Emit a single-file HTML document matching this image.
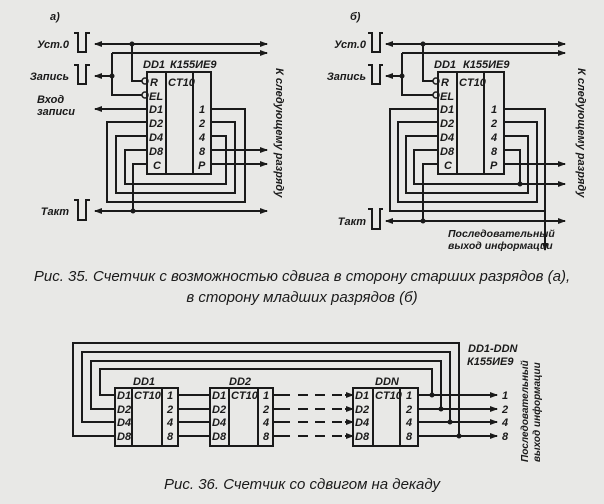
<!DOCTYPE html>
<html><head><meta charset="utf-8"><style>
html,body{margin:0;padding:0;background:#e8e8e6;}
svg{display:block;}
text{font-family:"Liberation Sans","DejaVu Sans",sans-serif;font-style:italic;font-weight:bold;fill:#1a1a1a;}
.l{stroke:#1a1a1a;stroke-width:2;fill:none;}
.t{font-size:11px;}
.c{font-size:15px;font-weight:normal;}
</style></head><body>
<svg width="604" height="504" viewBox="0 0 604 504" xmlns="http://www.w3.org/2000/svg">
<defs>
<marker id="a" markerWidth="8" markerHeight="6" refX="7" refY="3" orient="auto" markerUnits="userSpaceOnUse"><path d="M0,0 L8,3 L0,6z" fill="#1a1a1a"/></marker>
</defs>

<!-- ===== Fig a ===== -->
<text x="50" y="20" class="t">а)</text>
<text x="69" y="48" class="t" text-anchor="end">Уст.0</text>
<path class="l" d="M74,33 L78,33 L78,52 L86,52 L86,33 L90,33"/>
<text x="69" y="80" class="t" text-anchor="end">Запись</text>
<path class="l" d="M74,65 L78,65 L78,84 L86,84 L86,65 L90,65"/>
<text x="37" y="103" class="t">Вход</text>
<text x="37" y="115" class="t">записи</text>
<text x="69" y="215" class="t" text-anchor="end">Такт</text>
<path class="l" d="M74,200 L78,200 L78,220 L86,220 L86,200 L90,200"/>

<path class="l" d="M132,44 L95,44" marker-end="url(#a)"/>
<path class="l" d="M132,44 L267,44" marker-end="url(#a)"/>
<path class="l" d="M112,53 L267,53" marker-end="url(#a)"/>
<path class="l" d="M132,44 L132,81 L143,81"/>
<path class="l" d="M112,53 L112,95 L143,95"/>
<path class="l" d="M112,76 L95,76" marker-end="url(#a)"/>
<path class="l" d="M147,109 L95,109" marker-end="url(#a)"/>
<circle cx="132" cy="44" r="2.5" fill="#1a1a1a"/>
<circle cx="112" cy="76" r="2.5" fill="#1a1a1a"/>
<circle cx="145" cy="81" r="3" fill="#e8e8e6" stroke="#1a1a1a" stroke-width="1.5"/>
<circle cx="145" cy="95" r="3" fill="#e8e8e6" stroke="#1a1a1a" stroke-width="1.5"/>
<rect class="l" x="147" y="72" width="64" height="102"/>
<path class="l" d="M166,72 L166,174 M193,72 L193,174"/>
<text x="143" y="68" class="t">DD1</text>
<text x="170" y="68" class="t">К155ИЕ9</text>
<text x="150" y="86" class="t">R</text><text x="168" y="86" class="t">CT10</text>
<text x="149" y="100" class="t">EL</text>
<text x="149" y="113" class="t">D1</text><text x="149" y="127" class="t">D2</text>
<text x="149" y="141" class="t">D4</text><text x="149" y="155" class="t">D8</text>
<text x="153" y="169" class="t">C</text>
<text x="199" y="113" class="t">1</text><text x="199" y="127" class="t">2</text>
<text x="199" y="141" class="t">4</text><text x="199" y="155" class="t">8</text>
<text x="198" y="169" class="t">P</text>
<path class="l" d="M211,109 L245,109 L245,202 L107,202 L107,122 L147,122"/>
<path class="l" d="M211,122 L235,122 L235,193 L116,193 L116,136 L147,136"/>
<path class="l" d="M211,136 L226,136 L226,184 L125,184 L125,150 L147,150"/>
<path class="l" d="M211,150 L267,150" marker-end="url(#a)"/>
<path class="l" d="M211,164 L267,164" marker-end="url(#a)"/>
<path class="l" d="M147,164 L133,164 L133,211"/>
<path class="l" d="M133,211 L95,211" marker-end="url(#a)"/>
<path class="l" d="M133,211 L267,211" marker-end="url(#a)"/>
<circle cx="133" cy="211" r="2.5" fill="#1a1a1a"/>
<text class="t" transform="translate(276,68) rotate(90)">К следующему разряду</text>

<!-- ===== Fig б ===== -->
<text x="350" y="20" class="t">б)</text>
<text x="366" y="48" class="t" text-anchor="end">Уст.0</text>
<path class="l" d="M368,33 L372,33 L372,52 L380,52 L380,33 L383,33"/>
<text x="366" y="80" class="t" text-anchor="end">Запись</text>
<path class="l" d="M368,65 L372,65 L372,84 L380,84 L380,65 L383,65"/>
<text x="366" y="225" class="t" text-anchor="end">Такт</text>
<path class="l" d="M368,209 L372,209 L372,229 L380,229 L380,209 L383,209"/>

<path class="l" d="M423,44 L386,44" marker-end="url(#a)"/>
<path class="l" d="M423,44 L565,44" marker-end="url(#a)"/>
<path class="l" d="M402,53 L565,53" marker-end="url(#a)"/>
<path class="l" d="M423,44 L423,81 L434,81"/>
<path class="l" d="M402,53 L402,95 L434,95"/>
<path class="l" d="M402,76 L386,76" marker-end="url(#a)"/>
<circle cx="423" cy="44" r="2.5" fill="#1a1a1a"/>
<circle cx="402" cy="76" r="2.5" fill="#1a1a1a"/>
<circle cx="436" cy="81" r="3" fill="#e8e8e6" stroke="#1a1a1a" stroke-width="1.5"/>
<circle cx="436" cy="95" r="3" fill="#e8e8e6" stroke="#1a1a1a" stroke-width="1.5"/>
<rect class="l" x="438" y="72" width="66" height="102"/>
<path class="l" d="M457,72 L457,174 M484,72 L484,174"/>
<text x="434" y="68" class="t">DD1</text>
<text x="463" y="68" class="t">К155ИЕ9</text>
<text x="441" y="86" class="t">R</text><text x="459" y="86" class="t">CT10</text>
<text x="440" y="100" class="t">EL</text>
<text x="440" y="113" class="t">D1</text><text x="440" y="127" class="t">D2</text>
<text x="440" y="141" class="t">D4</text><text x="440" y="155" class="t">D8</text>
<text x="444" y="169" class="t">C</text>
<text x="491" y="113" class="t">1</text><text x="491" y="127" class="t">2</text>
<text x="491" y="141" class="t">4</text><text x="491" y="155" class="t">8</text>
<text x="490" y="169" class="t">P</text>
<path class="l" d="M504,109 L545,109 L545,250" marker-end="url(#a)"/>
<path class="l" d="M438,109 L390,109 L390,211 L545,211"/>
<path class="l" d="M504,122 L537,122 L537,202 L398,202 L398,122 L438,122"/>
<path class="l" d="M504,136 L528,136 L528,193 L406,193 L406,136 L438,136"/>
<path class="l" d="M504,150 L520,150 L520,184"/>
<path class="l" d="M438,150 L414,150 L414,184 L565,184" marker-end="url(#a)"/>
<path class="l" d="M504,164 L565,164" marker-end="url(#a)"/>
<path class="l" d="M438,164 L423,164 L423,221"/>
<path class="l" d="M423,221 L386,221" marker-end="url(#a)"/>
<path class="l" d="M423,221 L565,221" marker-end="url(#a)"/>
<circle cx="423" cy="221" r="2.5" fill="#1a1a1a"/>
<circle cx="520" cy="184" r="2.5" fill="#1a1a1a"/>
<text x="448" y="237" class="t" style="font-size:10.5px">Последовательный</text>
<text x="448" y="249" class="t" style="font-size:10.5px">выход информации</text>
<text class="t" transform="translate(578,68) rotate(90)">К следующему разряду</text>

<!-- caption 35 -->
<text x="302" y="281" class="c" text-anchor="middle">Рис. 35. Счетчик с возможностью сдвига в сторону старших разрядов (а),</text>
<text x="302" y="302" class="c" text-anchor="middle">в сторону младших разрядов (б)</text>

<!-- ===== Fig 36 ===== -->
<path class="l" d="M115,395 L100,395 L100,369 L432,369 L432,395"/>
<path class="l" d="M115,409 L91,409 L91,361 L441,361 L441,409"/>
<path class="l" d="M115,422 L82,422 L82,352 L450,352 L450,422"/>
<path class="l" d="M115,436 L73,436 L73,343 L459,343 L459,436"/>
<g>
<rect class="l" x="115" y="388" width="63" height="58"/><path class="l" d="M132,388 L132,446 M162,388 L162,446"/>
<rect class="l" x="210" y="388" width="63" height="58"/><path class="l" d="M229,388 L229,446 M258,388 L258,446"/>
<rect class="l" x="353" y="388" width="65" height="58"/><path class="l" d="M373,388 L373,446 M400,388 L400,446"/>
</g>
<text x="133" y="385" class="t">DD1</text><text x="229" y="385" class="t">DD2</text><text x="375" y="385" class="t">DDN</text>
<g class="t">
<text x="117" y="399">D1</text><text x="117" y="413">D2</text><text x="117" y="426">D4</text><text x="117" y="440">D8</text>
<text x="134" y="399">CT10</text>
<text x="167" y="399">1</text><text x="167" y="413">2</text><text x="167" y="426">4</text><text x="167" y="440">8</text>
<text x="212" y="399">D1</text><text x="212" y="413">D2</text><text x="212" y="426">D4</text><text x="212" y="440">D8</text>
<text x="231" y="399">CT10</text>
<text x="263" y="399">1</text><text x="263" y="413">2</text><text x="263" y="426">4</text><text x="263" y="440">8</text>
<text x="355" y="399">D1</text><text x="355" y="413">D2</text><text x="355" y="426">D4</text><text x="355" y="440">D8</text>
<text x="375" y="399">CT10</text>
<text x="406" y="399">1</text><text x="406" y="413">2</text><text x="406" y="426">4</text><text x="406" y="440">8</text>
</g>
<path class="l" d="M178,395 L210,395 M178,409 L210,409 M178,422 L210,422 M178,436 L210,436"/>
<path class="l" d="M273,395 L290,395 M273,409 L290,409 M273,422 L290,422 M273,436 L290,436"/>
<path class="l" style="stroke-dasharray:10,7" d="M298,395 L345,395 M298,409 L345,409 M298,422 L345,422 M298,436 L345,436"/>
<path class="l" d="M345,395 L353,395" marker-end="url(#a)"/>
<path class="l" d="M345,409 L353,409" marker-end="url(#a)"/>
<path class="l" d="M345,422 L353,422" marker-end="url(#a)"/>
<path class="l" d="M345,436 L353,436" marker-end="url(#a)"/>
<path class="l" d="M418,395 L497,395" marker-end="url(#a)"/>
<path class="l" d="M418,409 L497,409" marker-end="url(#a)"/>
<path class="l" d="M418,422 L497,422" marker-end="url(#a)"/>
<path class="l" d="M418,436 L497,436" marker-end="url(#a)"/>
<circle cx="432" cy="395" r="2.5" fill="#1a1a1a"/><circle cx="441" cy="409" r="2.5" fill="#1a1a1a"/>
<circle cx="450" cy="422" r="2.5" fill="#1a1a1a"/><circle cx="459" cy="436" r="2.5" fill="#1a1a1a"/>
<text x="502" y="399" class="t">1</text><text x="502" y="413" class="t">2</text>
<text x="502" y="426" class="t">4</text><text x="502" y="440" class="t">8</text>
<text x="468" y="352" class="t">DD1-DDN</text>
<text x="467" y="365" class="t">К155ИЕ9</text>
<text class="t" style="font-size:10px" transform="translate(528,462) rotate(-90)">Последовательный</text>
<text class="t" style="font-size:10px" transform="translate(540,462) rotate(-90)">выход информации</text>

<text x="302" y="489" class="c" text-anchor="middle">Рис. 36. Счетчик со сдвигом на декаду</text>
</svg>
</body></html>
